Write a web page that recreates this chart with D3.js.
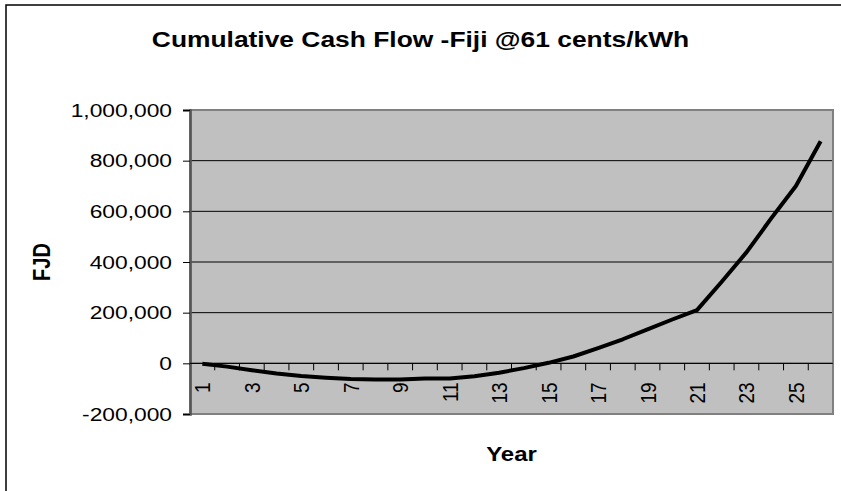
<!DOCTYPE html>
<html>
<head>
<meta charset="utf-8">
<script src="https://cdn.jsdelivr.net/npm/d3@7"></script>
<style>
  html, body { margin: 0; padding: 0; background: #fff; }
  svg { display: block; }
  text { font-family: "Liberation Sans", Arial, sans-serif; fill: #000; }
</style>
</head>
<body>
<div id="chart"></div>
<script>
const years = d3.range(1, 27);
const cashFlow = [
    -2000, -13000, -27000, -40000, -50000, -57000, -62000, -64000, -64000, -60000,
    -60000, -51000, -37000, -19000, 2000, 27000, 60000, 95000, 134000, 173000,
    210000, 322000, 438000, 572000, 700000, 877000
];
const yTicks = [-200000, 0, 200000, 400000, 600000, 800000, 1000000];
const xLabels = years.filter((d) => d % 2 === 1);

const title = 'Cumulative Cash Flow -Fiji @61 cents/kWh';
const xTitle = 'Year';
const yTitle = 'FJD';

function drawLineChart(chartId) {
    // the source picture is stretched sideways, so draw in a narrower box and stretch it
    const width = 841;
    const height = 491;
    const sx = 1.2;
    const vw = width / sx;
    const plot = { left: 190 / sx, right: 833 / sx, top: 110, bottom: 414 };

    const svg = d3
        .select(`#${chartId}`)
        .append('svg')
        .attr('width', width)
        .attr('height', height)
        .attr('viewBox', `0 0 ${vw} ${height}`)
        .attr('preserveAspectRatio', 'none');

    // outer frame (only top and left edges show)
    svg.append('path')
        .attr('d', `M${6 / sx},${height} V5 H${vw}`)
        .attr('fill', 'none')
        .attr('stroke', '#000')
        .attr('stroke-width', 1.5)
        .attr('vector-effect', 'non-scaling-stroke');

    const xScale = d3.scaleBand().domain(years).range([plot.left, plot.right]).padding(0);
    const yScale = d3.scaleLinear().domain([-200000, 1000000]).range([plot.bottom, plot.top]);

    svg.append('rect')
        .attr('x', plot.left)
        .attr('y', plot.top)
        .attr('width', plot.right - plot.left)
        .attr('height', plot.bottom - plot.top)
        .attr('fill', '#c0c0c0');

    // gridlines
    svg.append('g')
        .selectAll('line')
        .data(yTicks.slice(1, -1))
        .enter()
        .append('line')
        .attr('x1', plot.left)
        .attr('x2', plot.right)
        .attr('y1', (d) => yScale(d))
        .attr('y2', (d) => yScale(d))
        .attr('stroke', '#000')
        .attr('stroke-width', 1)
        .attr('vector-effect', 'non-scaling-stroke');

    // plot border
    svg.append('rect')
        .attr('x', plot.left)
        .attr('y', plot.top)
        .attr('width', plot.right - plot.left)
        .attr('height', plot.bottom - plot.top)
        .attr('fill', 'none')
        .attr('stroke', '#808080')
        .attr('stroke-width', 2)
        .attr('vector-effect', 'non-scaling-stroke');

    // y axis, plain hyphen for negatives like the original
    const numFormat = d3.formatLocale({ decimal: '.', thousands: ',', grouping: [3], currency: ['', ''], minus: '-' }).format(',');
    const yAxis = svg
        .append('g')
        .attr('transform', `translate(${plot.left}, 0)`)
        .call(d3.axisLeft(yScale).tickValues(yTicks).tickFormat(numFormat).tickSize(7 / sx).tickPadding(11 / sx));
    yAxis.select('.domain').attr('stroke', '#555').attr('stroke-width', 2.5).attr('vector-effect', 'non-scaling-stroke');
    yAxis.selectAll('.tick line').attr('stroke', '#000').attr('vector-effect', 'non-scaling-stroke');
    yAxis.selectAll('.tick text')
        .attr('font-size', 19)
        .attr('font-family', '"Liberation Sans", Arial, sans-serif')
        .attr('fill', '#000');

    // x axis crossing at zero, ticks between categories
    const y0 = yScale(0);
    const xAxis = svg.append('g');
    xAxis.append('line')
        .attr('x1', plot.left)
        .attr('x2', plot.right)
        .attr('y1', y0)
        .attr('y2', y0)
        .attr('stroke', '#000')
        .attr('stroke-width', 1)
        .attr('vector-effect', 'non-scaling-stroke');
    xAxis.selectAll('.xtick')
        .data(years.slice(1))
        .enter()
        .append('line')
        .attr('class', 'xtick')
        .attr('x1', (d) => xScale(d))
        .attr('x2', (d) => xScale(d))
        .attr('y1', y0)
        .attr('y2', y0 + 7)
        .attr('stroke', '#000')
        .attr('stroke-width', 1)
        .attr('vector-effect', 'non-scaling-stroke');
    xAxis.selectAll('.xlabel')
        .data(xLabels)
        .enter()
        .append('text')
        .attr('class', 'xlabel')
        .attr('transform', (d) => `translate(${xScale(d) + xScale.bandwidth() / 2}, ${y0 + 19}) rotate(-90)`)
        .attr('text-anchor', 'end')
        .attr('dy', '0.35em')
        .attr('font-size', 19)
        .text((d) => d);

    // the series
    const line = d3
        .line()
        .x((d, i) => xScale(years[i]) + xScale.bandwidth() / 2)
        .y((d) => yScale(d));

    svg.append('path')
        .datum(cashFlow)
        .attr('d', line)
        .attr('fill', 'none')
        .attr('stroke', '#000')
        .attr('stroke-width', 4)
        .attr('stroke-linejoin', 'round')
        .attr('vector-effect', 'non-scaling-stroke');

    // titles
    svg.append('text')
        .attr('x', 420.5 / sx)
        .attr('y', 47)
        .attr('text-anchor', 'middle')
        .attr('font-size', 22)
        .attr('font-weight', 'bold')
        .text(title);

    svg.append('text')
        .attr('x', (plot.left + plot.right) / 2)
        .attr('y', 461.5)
        .attr('text-anchor', 'middle')
        .attr('font-size', 20)
        .attr('font-weight', 'bold')
        .text(xTitle);

    svg.append('text')
        .attr('transform', `translate(${41.5 / sx}, ${(plot.top + plot.bottom) / 2}) rotate(-90)`)
        .attr('text-anchor', 'middle')
        .attr('dy', '0.35em')
        .attr('font-size', 20)
        .attr('font-weight', 'bold')
        .text(yTitle);
}

drawLineChart('chart');
</script>
</body>
</html>
